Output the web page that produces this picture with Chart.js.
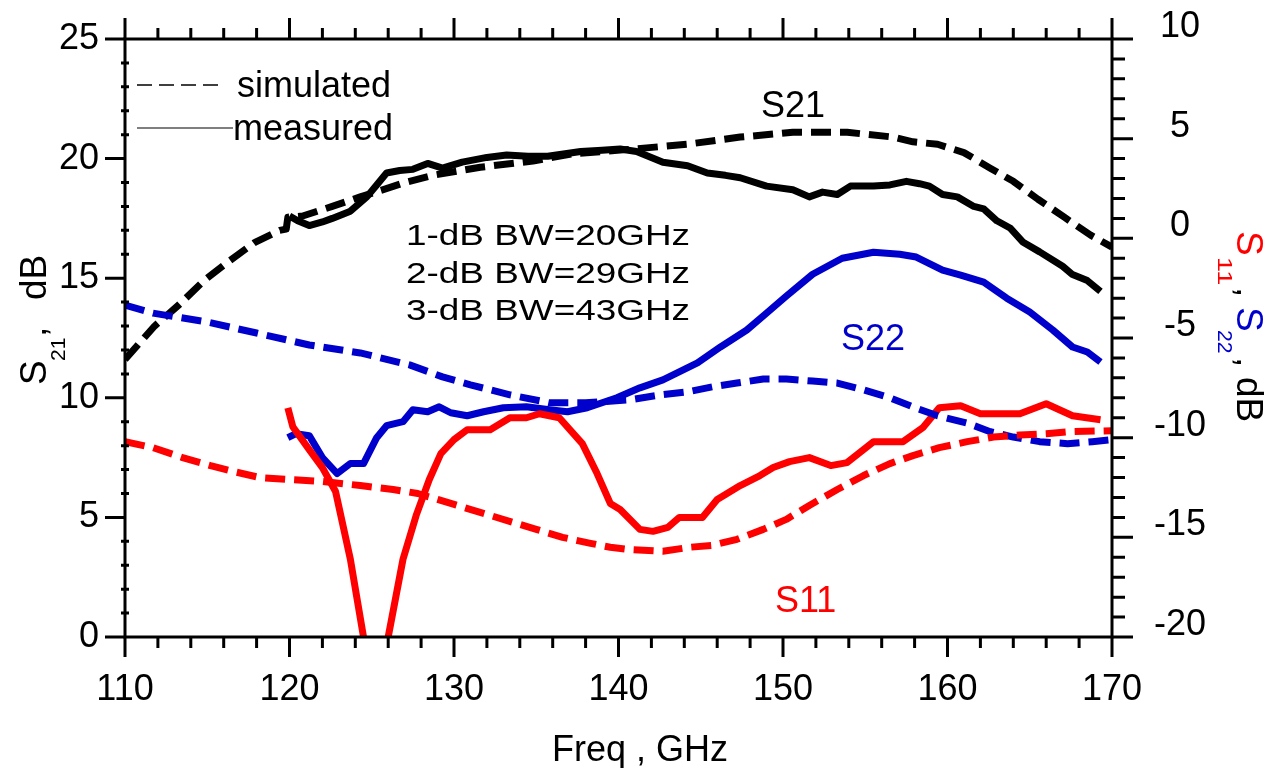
<!DOCTYPE html>
<html>
<head>
<meta charset="utf-8">
<script src="https://cdn.jsdelivr.net/npm/chart.js@4.4.1/dist/chart.umd.min.js"></script>
<style>
  html, body { margin: 0; padding: 0; background: #fff; }
  canvas { display: block; }
</style>
</head>
<body>
<canvas id="chart" width="1266" height="768"></canvas>
<script>
// Tick labels
const freqTicks = [110, 120, 130, 140, 150, 160, 170];
const s21Ticks = [0, 5, 10, 15, 20, 25];
const sParamTicks = [-20, -15, -10, -5, 0, 5, 10];

// S21 simulated (left axis)
const simS21Freq = [110, 111.8, 113.3, 114.8, 116.3, 117.9, 119.4, 119.8, 119.9, 120.8, 122.6, 124.3, 125.7, 127.0, 128.7, 130.4, 131.6, 134.8, 137.2, 140.9, 144.2, 147.4, 150.6, 153.9, 156.7, 157.9, 159.4, 161.0, 162.6, 164.0, 165.5, 167.1, 168.7, 170];
const simS21dB = [11.6, 13.0, 13.9, 14.9, 15.7, 16.5, 17.0, 17.05, 17.55, 17.6, 18.0, 18.4, 18.7, 19.0, 19.3, 19.5, 19.64, 19.9, 20.2, 20.4, 20.6, 20.9, 21.1, 21.1, 20.9, 20.7, 20.6, 20.25, 19.6, 19.05, 18.3, 17.55, 16.8, 16.3];

// S21 measured (left axis)
const measS21Freq = [120.0, 120.5, 121.2, 122.0, 122.6, 123.7, 124.7, 125.3, 125.9, 126.7, 127.5, 128.4, 129.3, 130.5, 132.0, 133.2, 134.5, 135.7, 137.7, 139.0, 140.1, 141.1, 142.7, 144.2, 145.4, 146.5, 147.4, 149.0, 150.6, 151.6, 152.4, 153.3, 154.1, 155.5, 156.5, 157.5, 158.3, 158.9, 159.7, 160.6, 161.6, 162.2, 163.0, 163.8, 164.6, 165.6, 167.0, 167.6, 168.5, 169.3];
const measS21dB = [17.6, 17.4, 17.2, 17.35, 17.5, 17.8, 18.4, 18.9, 19.4, 19.5, 19.55, 19.8, 19.6, 19.85, 20.05, 20.15, 20.1, 20.1, 20.3, 20.35, 20.4, 20.3, 19.85, 19.7, 19.4, 19.3, 19.2, 18.85, 18.7, 18.4, 18.6, 18.5, 18.85, 18.85, 18.9, 19.05, 18.95, 18.85, 18.5, 18.4, 18.0, 17.9, 17.4, 17.1, 16.5, 16.1, 15.5, 15.15, 14.9, 14.45];

// S22 simulated (right axis)
const simS22Freq = [110, 111.7, 115, 118, 121.2, 124.3, 127.3, 129.3, 131, 133.4, 135.8, 138, 140.7, 142.5, 144.2, 145.7, 147.2, 148.8, 150.2, 151.8, 153.3, 154.9, 156.5, 157.9, 159.4, 161.2, 162.6, 164.0, 165.6, 167.3, 168.8, 170];
const simS22dB = [-3.35, -3.75, -4.2, -4.75, -5.35, -5.75, -6.35, -6.95, -7.35, -7.85, -8.25, -8.25, -8.1, -7.86, -7.7, -7.45, -7.26, -7.06, -7.06, -7.16, -7.26, -7.6, -8.0, -8.46, -8.9, -9.27, -9.7, -9.97, -10.2, -10.3, -10.2, -10.1];

// S22 measured (right axis)
const measS22Freq = [119.9, 120.4, 121.2, 122.0, 122.9, 123.7, 124.5, 125.3, 125.9, 126.9, 127.5, 128.4, 129.1, 129.8, 130.8, 131.8, 133.0, 134.4, 135.8, 136.9, 138.1, 139.9, 141.3, 142.7, 144.8, 146.2, 147.8, 149.0, 150.2, 151.8, 153.6, 155.5, 157.1, 158.1, 159.7, 160.8, 162.2, 163.6, 165.0, 166.4, 167.6, 168.5, 169.3];
const measS22dB = [-10.0, -9.8, -9.9, -11.0, -11.8, -11.3, -11.3, -10.0, -9.4, -9.2, -8.6, -8.7, -8.45, -8.75, -8.9, -8.7, -8.5, -8.45, -8.6, -8.7, -8.5, -8.0, -7.5, -7.1, -6.25, -5.45, -4.6, -3.75, -2.9, -1.8, -1.0, -0.7, -0.8, -0.94, -1.6, -1.85, -2.2, -3.0, -3.7, -4.6, -5.45, -5.7, -6.2];

// S11 simulated (right axis)
const simS11Freq = [110, 111.7, 113.5, 115.2, 116.6, 118.2, 120, 122, 124.3, 126.3, 127.8, 129.0, 130.6, 132.2, 133.8, 135.0, 136.6, 138.3, 139.5, 140.5, 142.7, 144.3, 145.7, 147.2, 148.8, 150.2, 151.6, 153.3, 154.9, 156.5, 157.9, 159.5, 161.2, 162.8, 164.4, 166.0, 167.4, 170];
const simS11dB = [-10.2, -10.5, -11.0, -11.4, -11.7, -12.0, -12.1, -12.2, -12.4, -12.6, -12.8, -13.1, -13.5, -13.9, -14.3, -14.6, -15.0, -15.3, -15.5, -15.6, -15.7, -15.5, -15.4, -15.1, -14.6, -14.1, -13.4, -12.6, -11.9, -11.3, -10.9, -10.5, -10.2, -9.97, -9.87, -9.8, -9.7, -9.65];

// S11 measured (right axis)
const measS11Freq = [119.9, 120.2, 121.2, 122.0, 122.8, 123.7, 124.5, 125.2, 126.0, 126.9, 127.7, 128.5, 129.2, 130.0, 130.8, 132.2, 133.4, 134.4, 135.2, 136.4, 137.8, 138.7, 139.5, 140.1, 141.3, 142.1, 143.0, 143.7, 145.1, 146.0, 147.4, 148.6, 149.4, 150.4, 151.6, 152.9, 153.9, 155.5, 157.3, 158.5, 159.5, 160.8, 162.0, 164.4, 166.0, 167.6, 169.3];
const measS11dB = [-8.5, -9.45, -10.6, -11.5, -12.7, -16.1, -20, -23.5, -20, -16.1, -13.9, -12.1, -10.8, -10.1, -9.6, -9.6, -9.0, -9.0, -8.8, -9.0, -10.3, -11.8, -13.3, -13.6, -14.6, -14.7, -14.5, -14.0, -14.0, -13.1, -12.4, -11.9, -11.5, -11.2, -11.0, -11.4, -11.25, -10.2, -10.2, -9.5, -8.5, -8.4, -8.8, -8.8, -8.3, -8.9, -9.1];

const FONT = '"Liberation Sans", Arial, sans-serif';
const BLUE = '#0000cc';
const RED = '#ff0000';

function points(xs, ys) {
    return xs.map((x, i) => ({ x: x, y: ys[i] }));
}

function curve(label, xs, ys, axis, color, dashed) {
    return {
        label: label,
        data: points(xs, ys),
        yAxisID: axis,
        showLine: true,
        borderColor: color,
        borderWidth: 7,
        borderDash: dashed ? [20, 9] : [],
        borderJoinStyle: 'round',
        pointRadius: 0,
        tension: 0,
        fill: false,
        clip: 0
    };
}

function text(ctx, str, x, y, size, color, sx) {
    ctx.save();
    ctx.translate(x, y);
    ctx.scale(sx || 1, 1);
    ctx.font = size + 'px ' + FONT;
    ctx.fillStyle = color;
    ctx.textAlign = 'left';
    ctx.textBaseline = 'alphabetic';
    ctx.fillText(str, 0, 0);
    ctx.restore();
}

// Frame, tick marks, legend and labels
const framePlugin = {
    id: 'frame',
    afterDraw(chart) {
        const ctx = chart.ctx;
        const a = chart.chartArea;
        const xs = chart.scales.x, yl = chart.scales.y, yr = chart.scales.y2;

        ctx.save();
        ctx.strokeStyle = '#000';
        ctx.lineWidth = 3;
        ctx.lineCap = 'butt';
        ctx.strokeRect(a.left, a.top, a.right - a.left, a.bottom - a.top);

        ctx.beginPath();
        for (let v = xs.min; v <= xs.max; v += 2) {
            const px = xs.getPixelForValue(v);
            const major = v % 10 === 0;
            ctx.moveTo(px, a.bottom);
            ctx.lineTo(px, a.bottom + (major ? 20 : 11));
            ctx.moveTo(px, a.top);
            ctx.lineTo(px, a.top - (major ? 21 : 11));
        }
        for (let v = yl.min; v <= yl.max; v += 1) {
            const py = yl.getPixelForValue(v);
            if (v % 5 === 0) {
                ctx.moveTo(a.left - 20, py);
                ctx.lineTo(a.left, py);
            } else {
                ctx.moveTo(a.left - 4, py);
                ctx.lineTo(a.left + 4, py);
            }
        }
        for (let v = yr.min; v <= yr.max; v += 1) {
            const py = yr.getPixelForValue(v);
            ctx.moveTo(a.right, py);
            ctx.lineTo(a.right + (v % 5 === 0 ? 21 : 13), py);
        }
        ctx.stroke();

        // legend
        ctx.lineWidth = 1.5;
        ctx.setLineDash([15, 7]);
        ctx.beginPath();
        ctx.moveTo(137, 85);
        ctx.lineTo(220, 85);
        ctx.stroke();
        ctx.setLineDash([]);
        ctx.strokeStyle = '#555';
        ctx.beginPath();
        ctx.moveTo(137, 128);
        ctx.lineTo(233, 128);
        ctx.stroke();
        text(ctx, 'simulated', 237, 97, 36, '#000');
        text(ctx, 'measured', 233, 140, 36, '#000');

        // annotations
        text(ctx, 'S21', 761, 117, 36, '#000');
        text(ctx, 'S22', 841, 350, 36, BLUE);
        text(ctx, 'S11', 775, 612, 36, RED);
        text(ctx, '1-dB BW=20GHz', 406, 245, 30, '#000', 1.23);
        text(ctx, '2-dB BW=29GHz', 406, 283, 30, '#000', 1.23);
        text(ctx, '3-dB BW=43GHz', 406, 320, 30, '#000', 1.23);

        // x axis title
        text(ctx, 'Freq , GHz', 552, 761, 36, '#000');

        // left axis title
        ctx.save();
        ctx.translate(46, 385);
        ctx.rotate(-Math.PI / 2);
        text(ctx, 'S', 0, 0, 37, '#000');
        text(ctx, '21', 24, 19, 21, '#000');
        text(ctx, ',', 48, 0, 37, '#000');
        text(ctx, 'dB', 85, 0, 37, '#000');
        ctx.restore();

        // right axis title
        ctx.save();
        ctx.translate(1237, 231);
        ctx.rotate(Math.PI / 2);
        text(ctx, 'S', 0, 0, 37, RED);
        text(ctx, '11', 26, 19, 21, RED, 1.3);
        text(ctx, ',', 56, 0, 37, '#000');
        text(ctx, 'S', 76, 0, 37, BLUE);
        text(ctx, '22', 99, 19, 21, BLUE);
        text(ctx, ',', 126, 0, 37, '#000');
        text(ctx, 'dB', 146, 0, 37, '#000');
        ctx.restore();

        ctx.restore();
    }
};

function fixedTicks(values) {
    return scale => { scale.ticks = values.map(v => ({ value: v })); };
}

new Chart(document.getElementById('chart').getContext('2d'), {
    type: 'scatter',
    data: {
        datasets: [
            curve('S11 simulated', simS11Freq, simS11dB, 'y2', RED, true),
            curve('S22 simulated', simS22Freq, simS22dB, 'y2', BLUE, true),
            curve('S21 simulated', simS21Freq, simS21dB, 'y', '#000', true),
            curve('S11 measured', measS11Freq, measS11dB, 'y2', RED, false),
            curve('S22 measured', measS22Freq, measS22dB, 'y2', BLUE, false),
            curve('S21 measured', measS21Freq, measS21dB, 'y', '#000', false)
        ]
    },
    options: {
        responsive: false,
        animation: false,
        layout: { padding: { top: 39, left: 0, right: 0, bottom: 0 } },
        plugins: {
            legend: { display: false },
            tooltip: { enabled: false }
        },
        scales: {
            x: {
                type: 'linear',
                position: 'bottom',
                min: 110,
                max: 170,
                afterBuildTicks: fixedTicks(freqTicks),
                afterFit: s => { s.height = 131; },
                grid: { display: false, drawTicks: true, tickLength: 31 },
                border: { display: false },
                ticks: { color: '#000', padding: 0, font: { family: FONT, size: 36 } }
            },
            y: {
                type: 'linear',
                position: 'left',
                min: 0,
                max: 25,
                afterBuildTicks: fixedTicks(s21Ticks),
                afterFit: s => { s.width = 125; },
                grid: { display: false, drawTicks: true, tickLength: 26 },
                border: { display: false },
                ticks: { color: '#000', padding: 0, font: { family: FONT, size: 36 } }
            },
            y2: {
                type: 'linear',
                position: 'right',
                min: -20,
                max: 10,
                afterBuildTicks: fixedTicks(sParamTicks),
                afterFit: s => { s.width = 154; },
                grid: { display: false, drawTicks: true, tickLength: 42 },
                border: { display: false },
                ticks: { color: '#000', padding: 0, crossAlign: 'center', labelOffset: -12, font: { family: FONT, size: 36 } }
            }
        }
    },
    plugins: [framePlugin]
});
</script>
</body>
</html>
